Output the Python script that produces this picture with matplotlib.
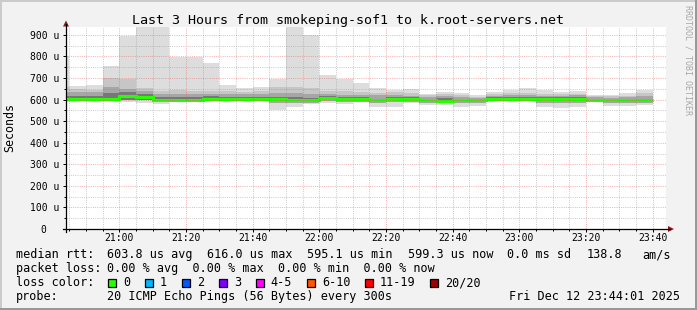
import matplotlib
matplotlib.use("Agg")
import matplotlib.pyplot as plt
import matplotlib.dates as mdates
from matplotlib.patches import Rectangle, Polygon
from matplotlib.lines import Line2D
import pandas as pd

W, H = 697, 310

# ---------------- data ----------------
title = "Last 3 Hours from smokeping-sof1 to k.root-servers.net"
bar_start = "2025-12-12 20:40"
bar_step = "5min"
view_start = "2025-12-12 20:44:01"
view_end = "2025-12-12 23:44:01"

# smoke (ping distribution per 5-minute step), values in microseconds
ping_max = [800, 661, 670, 758, 897, 960, 960, 797, 797, 771, 670, 655, 660, 694, 960, 898, 712, 694,
            675, 655, 645, 649, 628, 634, 630, 620, 634, 645, 652, 643, 634, 638, 623, 623, 629, 643]
ping_hi2 = [660, 650, 645, 699, 696, 655, 640, 645, 640, 640, 640, 635, 640, 660, 660, 655, 640, 640,
            635, 632, 637, 632, 620, 625, 622, 612, 625, 632, 632, 628, 625, 628, 615, 615, 618, 630]
ping_hi1 = [635, 635, 634, 660, 650, 640, 625, 625, 625, 628, 625, 625, 625, 630, 630, 628, 625, 622,
            622, 621, 621, 618, 612, 615, 612, 606, 617, 620, 620, 618, 618, 620, 610, 608, 610, 615]
ping_hi0 = [615, 615, 618, 630, 635, 625, 612, 610, 610, 615, 612, 612, 612, 612, 610, 608, 617, 612,
            610, 605, 611, 610, 604, 606, 604, 602, 610, 612, 610, 610, 612, 612, 605, 602, 602, 605]
median = [605, 605, 602, 605, 616, 612, 600, 600, 600, 603, 601, 601, 601, 601, 596, 596, 607, 603,
          601, 597, 603, 603, 597, 595, 597, 597, 603, 605, 602, 601, 605, 605, 600, 596, 596, 599]
ping_lo0 = [598, 598, 597, 598, 600, 600, 596, 596, 596, 597, 596, 596, 596, 595, 590, 590, 598, 596,
            595, 590, 597, 597, 592, 590, 592, 592, 598, 599, 597, 596, 598, 598, 595, 591, 591, 592]
ping_lo1 = [594, 594, 594, 594, 596, 596, 592, 593, 593, 594, 593, 593, 592, 585, 582, 585, 593, 591,
            591, 583, 590, 590, 585, 582, 582, 585, 594, 595, 594, 585, 582, 585, 593, 583, 583, 585]
ping_min = [590, 588, 590, 590, 588, 585, 580, 588, 590, 588, 588, 588, 588, 551, 566, 580, 585, 581,
            587, 567, 567, 586, 575, 575, 567, 570, 590, 590, 590, 566, 560, 566, 590, 570, 570, 575]

yticks = [0, 100, 200, 300, 400, 500, 600, 700, 800, 900]
ytick_labels = ["0  ", "100 u", "200 u", "300 u", "400 u", "500 u", "600 u", "700 u", "800 u", "900 u"]
y_top = 938

loss_labels = ["0", "1", "2", "3", "4-5", "6-10", "11-19", "20/20"]
loss_colors = ["#26ff00", "#00b8ff", "#0059ff", "#7e00ff", "#ff00ff", "#ff5500", "#ff0000", "#a10000"]

stat_rtt = ["603.8 us avg", "616.0 us max", "595.1 us min", "599.3 us now", "0.0 ms sd", "138.8", "am/s"]
stat_loss = "0.00 % avg  0.00 % max  0.00 % min  0.00 % now"
probe_text = "20 ICMP Echo Pings (56 Bytes) every 300s"
date_text = "Fri Dec 12 23:44:01 2025"

# ---------------- figure ----------------
MONO = "DejaVu Sans Mono"
fig = plt.figure(figsize=(W / 100, H / 100), dpi=100, facecolor="#f2f2f2")


def fx(px):
    return px / W


def fy(py):
    return 1 - py / H


# frame shading
fig.add_artist(Rectangle((0, fy(2)), 1, 2 / H, transform=fig.transFigure, color="#cbcbcb", lw=0))
fig.add_artist(Rectangle((0, 0), 2 / W, 1, transform=fig.transFigure, color="#cbcbcb", lw=0))
fig.add_artist(Rectangle((0, 0), 1, 2 / H, transform=fig.transFigure, color="#999999", lw=0))
fig.add_artist(Rectangle((fx(W - 2), 0), 2 / W, 1, transform=fig.transFigure, color="#999999", lw=0))

ax_left, ax_right, ax_top, ax_bottom = 66, 666, 26.7, 229
ax = fig.add_axes([fx(ax_left), fy(ax_bottom), (ax_right - ax_left) / W, (ax_bottom - ax_top) / H])
ax.set_facecolor("white")

edges = mdates.date2num(pd.date_range(bar_start, periods=len(median) + 1, freq=bar_step).to_pydatetime())

layers = [
    (ping_max, ping_min, "#dddddd"),
    (ping_hi2, ping_lo1, "#c6c6c6"),
    (ping_hi1, ping_lo1, "#a6a6a6"),
    (ping_hi0, ping_lo0, "#777777"),
]
for hi, lo, col in layers:
    ax.stairs(hi, edges, baseline=lo, fill=True, color=col, lw=0, zorder=1, antialiased=False)

ax.stairs(median, edges, baseline=None, color=loss_colors[0], lw=2.2, zorder=2)

ax.set_xlim(mdates.date2num(pd.Timestamp(view_start)), mdates.date2num(pd.Timestamp(view_end)))
ax.set_ylim(0, y_top)

ax.xaxis.set_major_locator(mdates.MinuteLocator(byminute=[0, 20, 40]))
ax.xaxis.set_minor_locator(mdates.MinuteLocator(byminute=range(0, 60, 5)))
ax.xaxis.set_major_formatter(mdates.DateFormatter("%H:%M"))
ax.set_yticks(yticks)
ax.set_yticklabels(ytick_labels)
ax.set_yticks(range(50, 950, 100), minor=True)

ax.set_axisbelow(False)
ax.grid(which="minor", color="#8f8f8f", alpha=0.45, lw=0.72, linestyle=(0, (1, 1.2)))
ax.grid(which="major", color="#de4f4f", alpha=0.42, lw=0.72, linestyle=(0, (1, 1.2)))

for s in ax.spines.values():
    s.set_visible(False)

ax.tick_params(which="major", axis="y", direction="out", length=2.2, width=0.72, pad=2.9,
               labelsize=7, colors="black")
ax.tick_params(which="minor", axis="y", direction="out", length=1.4, width=0.72)
ax.tick_params(which="major", axis="x", direction="out", length=2.2, width=0.72, pad=1.0,
               labelsize=7, colors="black")
ax.tick_params(which="minor", axis="x", direction="out", length=1.4, width=0.72)
for lab in ax.get_xticklabels() + ax.get_yticklabels():
    lab.set_fontfamily(MONO)

# axis lines and arrows
fig.add_artist(Line2D([fx(ax_left), fx(ax_left)], [fy(ax_bottom + 3), fy(24)], transform=fig.transFigure,
                      color="black", lw=0.9))
fig.add_artist(Line2D([fx(ax_left - 3), fx(670)], [fy(ax_bottom), fy(ax_bottom)], transform=fig.transFigure,
                      color="black", lw=0.9))
arrow_col = "#8e1b1b"
fig.add_artist(Polygon([[fx(ax_left - 3), fy(26.5)], [fx(ax_left + 3), fy(26.5)], [fx(ax_left), fy(20.5)]],
                       closed=True, transform=fig.transFigure, color=arrow_col, lw=0))
fig.add_artist(Polygon([[fx(668), fy(ax_bottom - 3)], [fx(668), fy(ax_bottom + 3)], [fx(674), fy(ax_bottom)]],
                       closed=True, transform=fig.transFigure, color=arrow_col, lw=0))

# texts
fig.text(fx(348), fy(24), title, family=MONO, size=9.6, ha="center", va="baseline")
fig.text(fx(10), fy(128), "Seconds", family=MONO, size=8.4, ha="center", va="center", rotation=90)
fig.text(fx(688), fy(60), "RRDTOOL / TOBI OETIKER", family=MONO, size=6, ha="center", va="center",
         rotation=270, color="#a8a8a8")

LS = 8.5
rows_y = [258.3, 272.2, 286.0, 300.0]
fig.text(fx(16), fy(rows_y[0]), "median rtt:", family=MONO, size=LS, va="baseline")
rtt_x = [107.3, 207.3, 306.7, 407.7, 507.3, 586.7, 642.7]
for txt, px in zip(stat_rtt, rtt_x):
    fig.text(fx(px), fy(rows_y[0]), txt, family=MONO, size=LS, va="baseline")

fig.text(fx(16), fy(rows_y[1]), "packet loss:", family=MONO, size=LS, va="baseline")
fig.text(fx(107.3), fy(rows_y[1]), stat_loss, family=MONO, size=LS, va="baseline")

fig.text(fx(16), fy(rows_y[2]), "loss color:", family=MONO, size=LS, va="baseline")
box_x = [108.3, 145.3, 182.3, 219.3, 256.3, 307.3, 365.3, 430.3]
for lab, col, bx in zip(loss_labels, loss_colors, box_x):
    fig.add_artist(Rectangle((fx(bx), fy(287)), 8 / W, 8 / H, transform=fig.transFigure,
                             facecolor=col, edgecolor="black", lw=0.9))
    fig.text(fx(bx + 14.5), fy(rows_y[2]), lab, family=MONO, size=LS, va="baseline")

fig.text(fx(16), fy(rows_y[3]), "probe:", family=MONO, size=LS, va="baseline")
fig.text(fx(107.3), fy(rows_y[3]), probe_text, family=MONO, size=LS, va="baseline")
fig.text(fx(680), fy(rows_y[3]), date_text, family=MONO, size=LS, va="baseline", ha="right")

fig.savefig("out.png", dpi=100, facecolor=fig.get_facecolor())
